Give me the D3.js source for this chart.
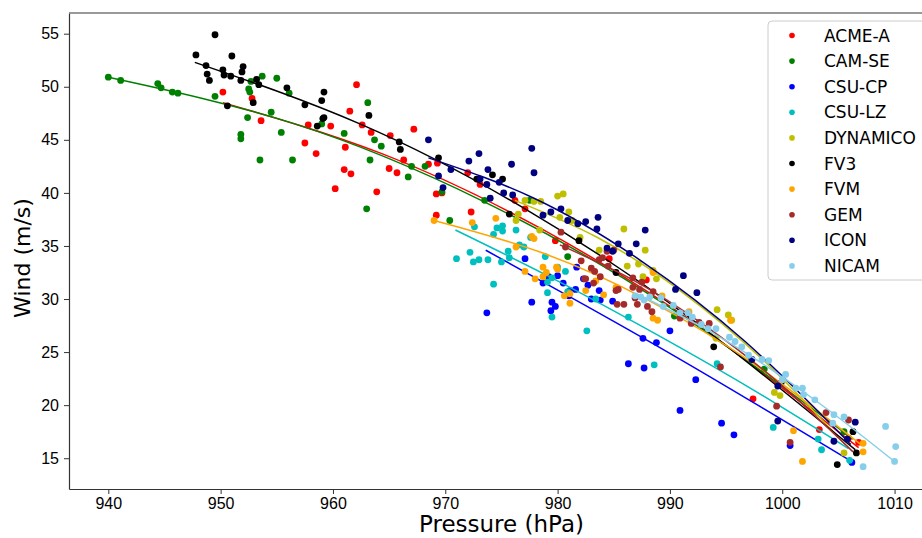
<!DOCTYPE html>
<html>
<head>
<meta charset="utf-8">
<script src="https://cdn.jsdelivr.net/npm/d3@7"></script>
<style>
  body { margin: 0; background: #fff; }
  svg { display: block; font-family: "DejaVu Sans", sans-serif; }
</style>
</head>
<body>
<div id="chart"></div>
<script>
const models = ["ACME-A", "CAM-SE", "CSU-CP", "CSU-LZ", "DYNAMICO", "FV3", "FVM", "GEM", "ICON", "NICAM"];
const colors = ["#ff0000", "#008000", "#0000ff", "#00bfbf", "#bfbf00", "#000000", "#ffa500", "#a52a2a", "#000080", "#87ceeb"];

const xTicks = [940, 950, 960, 970, 980, 990, 1000, 1010];
const yTicks = [15, 20, 25, 30, 35, 40, 45, 50, 55];

// [pressure hPa, wind m/s]
const acmeA = [[950.2,49.5],[952.8,48.9],[953.6,46.8],[957.8,46.4],[957.5,44.7],[958.5,43.7],[959.8,46.3],[960.2,40.4],[961.1,44.3],[961.5,47.7],[962.1,50.2],[961.0,42.2],[961.6,41.8],[962.6,46.4],[963.4,45.7],[963.9,40.1],[965.1,45.4],[965.0,42.3],[965.7,41.9],[966.3,43.1],[967.2,46.0],[968.5,42.7],[969.3,42.8],[969.2,39.9],[969.7,40.0],[969.2,37.9],[972.0,41.9],[972.3,38.2],[973.1,40.8],[976.2,39.3],[977.1,38.5],[979.8,35.5],[984.6,33.8],[987.9,31.8],[997.4,20.6],[1003.3,17.7],[1005.9,16.9],[1006.8,16.5]];
const camSe = [[940.0,50.9],[941.1,50.6],[944.4,50.3],[944.7,49.9],[945.7,49.5],[946.2,49.4],[949.5,49.1],[953.7,51.0],[955.0,50.8],[952.7,50.5],[952.5,49.8],[952.6,49.5],[952.4,47.1],[951.8,45.5],[951.8,45.1],[953.5,43.1],[954.5,47.6],[955.4,45.7],[956.4,43.1],[956.1,49.4],[959.0,46.5],[961.0,45.6],[963.1,48.5],[963.0,38.5],[963.7,45.0],[964.3,44.4],[963.3,43.1],[967.0,42.5],[966.7,41.5],[968.2,42.5],[969.7,40.1],[970.4,37.4],[973.5,39.3],[977.5,39.3],[980.9,34.0],[990.4,28.4],[998.4,23.4],[1005.5,17.5]];
const csuCp = [[973.7,28.7],[977.1,33.8],[977.7,29.7],[979.4,28.9],[979.5,29.7],[979.8,29.3],[978.7,31.5],[979.2,32.1],[980.0,32.2],[980.5,31.5],[981.1,30.8],[981.0,30.3],[981.6,30.9],[981.7,33.0],[982.3,31.9],[982.7,31.3],[983.7,30.8],[983.0,30.0],[983.8,29.9],[984.9,29.8],[987.6,26.3],[988.8,25.9],[986.3,23.9],[987.7,23.5],[990.0,27.0],[992.3,22.4],[990.9,19.5],[994.6,18.3],[995.7,17.2],[1000.7,16.2],[1006.2,14.6]];
const csuLz = [[972.6,36.8],[974.6,36.7],[975.1,36.9],[975.1,36.4],[974.3,36.1],[976.3,36.5],[977.6,35.8],[972.2,34.4],[971.0,33.8],[973.0,33.7],[972.5,33.5],[973.8,33.7],[975.0,33.5],[975.6,34.5],[975.7,33.9],[976.6,35.1],[977.0,34.9],[974.3,31.4],[978.9,34.0],[979.1,31.6],[979.5,32.0],[979.1,30.6],[979.5,28.3],[980.7,32.6],[980.9,30.7],[980.0,33.0],[982.6,27.0],[983.4,30.0],[986.3,28.3],[988.6,23.8],[994.2,23.9],[999.2,17.9],[1003.2,16.8],[1003.5,15.8],[1006.0,14.8]];
const dynamico = [[980.0,39.7],[980.5,39.9],[977.1,39.3],[977.9,39.2],[978.5,39.2],[976.5,38.0],[976.3,37.4],[978.4,36.5],[980.2,37.7],[981.0,38.2],[981.3,37.4],[982.0,35.8],[983.7,34.6],[985.9,36.6],[987.8,34.6],[986.2,33.1],[987.2,33.3],[987.6,32.1],[988.8,31.9],[988.5,32.7],[994.2,29.0],[995.2,28.5],[995.5,28.0],[994.1,26.3],[999.3,21.2],[999.8,20.9],[1005.5,15.5]];
const fv3 = [[947.8,53.0],[949.5,54.9],[948.7,52.0],[948.8,51.2],[949.0,50.6],[950.2,51.6],[950.3,51.1],[950.9,51.0],[951.0,52.9],[951.8,50.6],[951.9,51.4],[952.0,51.9],[952.9,48.5],[953.2,50.7],[953.4,50.2],[950.6,48.2],[955.9,49.9],[957.5,48.3],[959.0,48.7],[959.2,49.5],[959.2,47.1],[959.1,47.0],[958.6,46.3],[963.2,47.3],[965.9,44.8],[966.0,44.1],[969.4,43.3],[972.8,41.3],[974.2,41.7],[975.1,41.3],[975.7,38.0],[981.9,35.5],[985.2,32.5],[993.9,25.5],[999.9,22.1],[1004.9,14.4],[1006.3,17.5],[1006.6,15.5]];
const fvm = [[969.0,37.4],[972.4,37.2],[974.5,37.6],[977.7,35.9],[977.9,35.7],[976.3,34.9],[977.1,32.6],[978.0,31.9],[978.7,33.0],[979.0,32.5],[978.7,32.1],[979.9,33.0],[980.0,32.8],[980.6,30.3],[981.1,29.6],[981.1,30.5],[982.5,30.8],[984.1,30.4],[983.4,31.7],[985.2,31.1],[988.5,32.5],[989.3,30.3],[988.5,28.2],[988.9,28.0],[991.7,28.8],[995.4,28.0],[1001.0,17.6],[1001.8,14.7],[1007.2,16.4],[1007.2,15.6]];
const gem = [[980.3,36.3],[980.7,34.9],[982.1,33.6],[982.4,31.9],[983.2,31.5],[983.0,32.9],[983.7,33.7],[984.0,33.9],[984.4,34.5],[983.3,32.6],[983.8,32.1],[984.5,33.1],[985.2,30.8],[985.4,30.9],[985.9,29.5],[985.3,29.5],[986.7,32.0],[986.7,31.1],[987.3,30.9],[986.9,30.1],[985.0,34.6],[982.5,31.9],[987.1,29.5],[988.0,29.3],[988.4,28.8],[988.5,30.7],[987.5,31.6],[990.9,28.2],[991.9,27.7],[992.6,27.8],[993.5,27.7],[994.5,23.6],[999.5,19.9],[1000.7,16.5],[1003.9,19.3],[1005.9,18.6]];
const icon = [[968.5,45.0],[969.4,41.6],[969.8,40.5],[970.5,42.2],[972.1,43.0],[973.0,43.7],[973.8,42.2],[973.7,40.8],[973.1,41.3],[974.8,41.0],[974.0,39.5],[975.9,42.7],[975.2,40.0],[976.0,39.8],[977.7,44.2],[977.9,41.9],[978.7,37.9],[979.4,38.2],[980.3,38.5],[980.9,37.4],[981.8,37.1],[982.5,37.3],[983.6,37.7],[983.5,36.6],[984.4,34.8],[984.9,34.5],[985.4,35.2],[986.4,34.3],[987.0,35.2],[987.8,36.5],[991.2,32.2],[990.5,30.9],[992.4,30.6],[997.3,24.3],[999.6,21.8],[999.6,18.5],[1004.6,16.6],[1006.5,18.4],[1005.8,16.8]];
const nicam = [[986.9,30.3],[987.4,30.2],[988.2,30.2],[987.7,29.9],[989.2,30.1],[989.4,29.3],[990.3,29.4],[990.9,28.7],[991.6,28.7],[992.0,28.3],[992.8,27.6],[993.4,27.2],[994.1,27.2],[995.3,26.4],[995.8,26.0],[996.4,25.5],[997.0,24.7],[998.2,24.3],[998.8,24.2],[1000.3,22.9],[1000.0,22.4],[1001.2,21.6],[1001.8,21.6],[1001.9,21.0],[1002.9,20.5],[1004.6,19.1],[1004.5,18.3],[1005.5,18.9],[1009.2,18.0],[1010.1,16.1],[1010.0,14.7],[1007.2,14.2]];

// fitted curves
const acmeAFit = [[950.2,48.5],[964.35,43.7],[978.5,36.65],[992.65,27.4],[1006.8,16.0]];
const camSeFit = [[940.0,50.9],[956.6,46.5],[973.2,39.3],[989.7,29.4],[1006.3,16.8]];
const csuCpFit = [[973.6,34.6],[981.7,29.85],[989.8,25.0],[997.9,19.95],[1006.0,14.8]];
const csuLzFit = [[970.9,36.5],[979.65,31.9],[988.4,26.9],[997.15,21.6],[1005.9,15.9]];
const dynamicoFit = [[976.2,39.3],[983.55,35.8],[990.9,30.8],[998.25,24.3],[1005.6,16.3]];
const fv3Fit = [[947.7,52.3],[962.4,46.5],[977.1,38.5],[991.8,28.2],[1006.5,15.8]];
const fvmFit = [[969.0,37.4],[978.5,34.4],[988.05,29.9],[997.6,23.8],[1007.1,16.2]];
const gemFit = [[980.2,35.1],[986.7,31.8],[993.25,27.4],[999.8,22.0],[1006.3,15.6]];
const iconFit = [[968.5,43.3],[977.9,39.5],[987.3,33.7],[996.7,26.0],[1006.1,16.3]];
const nicamFit = [[987.0,30.5],[992.8,27.4],[998.55,23.7],[1004.3,19.4],[1010.1,14.6]];

const points = [acmeA, camSe, csuCp, csuLz, dynamico, fv3, fvm, gem, icon, nicam];
const fits = [acmeAFit, camSeFit, csuCpFit, csuLzFit, dynamicoFit, fv3Fit, fvmFit, gemFit, iconFit, nicamFit];

const width = 922;
const height = 538;
const margin = { top: 13, right: -13, bottom: 49, left: 69 };

const svg = d3.select("#chart").append("svg")
    .attr("width", width)
    .attr("height", height);

const x = d3.scaleLinear()
    .domain([936.5, 1013.6])
    .range([margin.left, width - margin.right]);

const y = d3.scaleLinear()
    .domain([12.1, 56.95])
    .range([height - margin.bottom, margin.top]);

svg.append("clipPath").attr("id", "plot-clip")
    .append("rect")
    .attr("x", margin.left)
    .attr("y", margin.top)
    .attr("width", width - margin.right - margin.left)
    .attr("height", height - margin.bottom - margin.top);

const plot = svg.append("g").attr("clip-path", "url(#plot-clip)");

const line = d3.line()
    .x(d => x(d[0]))
    .y(d => y(d[1]))
    .curve(d3.curveNatural);

models.forEach((m, i) => {
    plot.append("g")
        .selectAll("circle")
        .data(points[i])
        .enter()
        .append("circle")
        .attr("cx", d => x(d[0]))
        .attr("cy", d => y(d[1]))
        .attr("r", 3.4)
        .attr("fill", colors[i]);

    plot.append("path")
        .datum(fits[i])
        .attr("d", line)
        .attr("fill", "none")
        .attr("stroke", colors[i])
        .attr("stroke-width", 1.5);
});

// axes
const xAxis = svg.append("g")
    .attr("transform", `translate(0,${height - margin.bottom})`)
    .call(d3.axisBottom(x).tickValues(xTicks).tickSize(5).tickSizeOuter(0).tickPadding(4).tickFormat(d3.format("d")));
xAxis.select(".domain").attr("stroke", "#333").attr("stroke-width", 1.2);
xAxis.selectAll(".tick line").attr("stroke", "#333");
xAxis.selectAll("text").style("font-size", "16px").attr("fill", "#000");

const yAxis = svg.append("g")
    .attr("transform", `translate(${margin.left},0)`)
    .call(d3.axisLeft(y).tickValues(yTicks).tickSize(5).tickSizeOuter(0).tickPadding(5));
yAxis.select(".domain").attr("stroke", "#333").attr("stroke-width", 1.2);
yAxis.selectAll(".tick line").attr("stroke", "#333");
yAxis.selectAll("text").style("font-size", "16px").attr("fill", "#000");

// top spine
svg.append("line")
    .attr("x1", margin.left).attr("x2", width)
    .attr("y1", margin.top).attr("y2", margin.top)
    .attr("stroke", "#777").attr("stroke-width", 1.6);

svg.append("text")
    .attr("x", (margin.left + 934) / 2)
    .attr("y", 532)
    .attr("text-anchor", "middle")
    .style("font-size", "23px")
    .text("Pressure (hPa)");

svg.append("text")
    .attr("transform", `translate(30,258) rotate(-90)`)
    .attr("text-anchor", "middle")
    .style("font-size", "22px")
    .text("Wind (m/s)");

// legend
const legend = svg.append("g");
legend.append("rect")
    .attr("x", 768).attr("y", 21)
    .attr("width", 170).attr("height", 259)
    .attr("rx", 4)
    .attr("fill", "#fff").attr("fill-opacity", 0.8)
    .attr("stroke", "#ccc");

models.forEach((m, i) => {
    const ly = 35.5 + i * 25.6;
    legend.append("circle")
        .attr("cx", 792).attr("cy", ly)
        .attr("r", 2.8)
        .attr("fill", colors[i]);
    legend.append("text")
        .attr("x", 824).attr("y", ly + 6)
        .style("font-size", "17px")
        .text(m);
});
</script>
</body>
</html>
